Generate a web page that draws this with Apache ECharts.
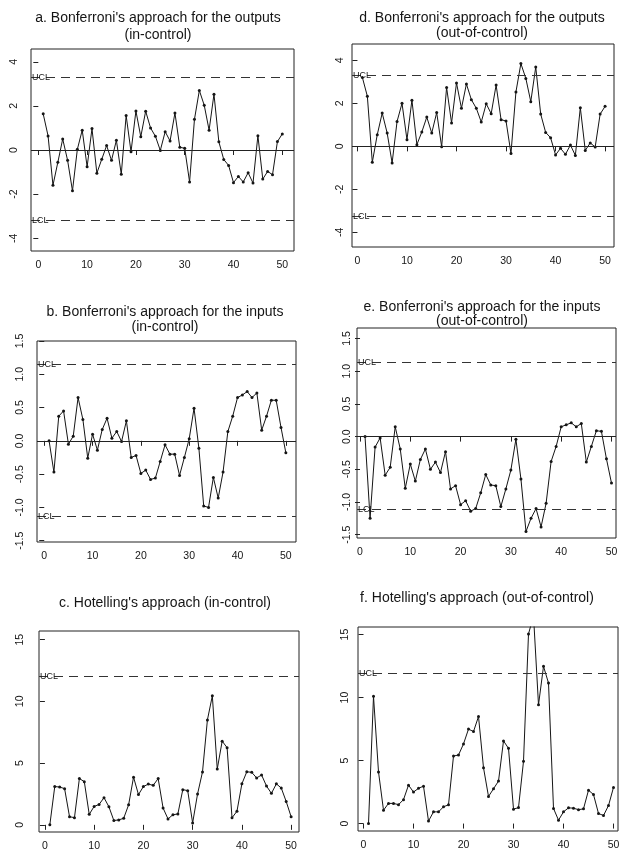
<!DOCTYPE html>
<html>
<head>
<meta charset="utf-8">
<script src="https://cdn.jsdelivr.net/npm/echarts@6/dist/echarts.min.js"></script>
<style>
html,body{margin:0;padding:0;background:#fff;}
#chart{width:623px;height:852px;}
</style>
</head>
<body>
<div id="chart"></div>
<script>
// observation numbers
const obs = [1,2,3,4,5,6,7,8,9,10,11,12,13,14,15,16,17,18,19,20,21,22,23,24,25,26,27,28,29,30,31,32,33,34,35,36,37,38,39,40,41,42,43,44,45,46,47,48,49,50];

// a. Bonferroni outputs (in-control)
const outputsIn = [1.64,0.64,-1.6,-0.56,0.5,-0.47,-1.85,0.03,0.9,-0.76,0.97,-1.05,-0.42,0.2,-0.47,0.44,-1.1,1.56,-0.08,1.77,0.6,1.76,1.0,0.62,-0.02,0.83,0.41,1.68,0.12,0.08,-1.45,1.39,2.7,2.03,0.9,2.53,0.37,-0.43,-0.7,-1.48,-1.2,-1.45,-1.03,-1.5,0.65,-1.32,-0.97,-1.12,0.38,0.73];
// d. Bonferroni outputs (out-of-control)
const outputsOut = [3.2,2.33,-0.74,0.54,1.55,0.62,-0.77,1.16,2.0,0.31,2.15,0.08,0.67,1.36,0.62,1.57,-0.02,2.74,1.09,2.95,1.77,2.9,2.17,1.77,1.13,1.98,1.52,2.85,1.24,1.18,-0.33,2.53,3.85,3.16,2.08,3.69,1.5,0.65,0.4,-0.4,-0.09,-0.37,0.06,-0.42,1.8,-0.19,0.16,-0.03,1.5,1.86];
// b. Bonferroni inputs (in-control)
const inputsIn = [0.0,-0.47,0.37,0.45,-0.05,0.07,0.65,0.32,-0.26,0.1,-0.14,0.17,0.34,0.04,0.14,-0.01,0.3,-0.25,-0.22,-0.49,-0.44,-0.58,-0.56,-0.31,-0.06,-0.2,-0.2,-0.52,-0.25,0.03,0.49,-0.11,-0.98,-1.0,-0.55,-0.86,-0.47,0.14,0.37,0.65,0.69,0.74,0.65,0.72,0.16,0.37,0.61,0.61,0.2,-0.18];
// e. Bonferroni inputs (out-of-control)
const inputsOut = [0.0,-1.25,-0.16,-0.02,-0.59,-0.47,0.15,-0.19,-0.79,-0.42,-0.68,-0.35,-0.19,-0.5,-0.39,-0.55,-0.23,-0.8,-0.75,-1.04,-0.98,-1.14,-1.1,-0.86,-0.58,-0.74,-0.75,-1.07,-0.8,-0.51,-0.04,-0.65,-1.45,-1.25,-1.1,-1.38,-1.02,-0.38,-0.15,0.15,0.18,0.21,0.15,0.2,-0.39,-0.15,0.09,0.08,-0.34,-0.71];
// c. Hotelling (in-control)
const hotIn = [0.0,3.1,3.06,2.93,0.66,0.58,3.75,3.5,0.85,1.49,1.65,2.2,1.46,0.35,0.4,0.53,1.62,3.86,2.45,3.1,3.3,3.2,3.75,1.36,0.48,0.82,0.88,2.85,2.77,0.15,2.5,4.28,8.5,10.45,4.52,6.78,6.25,0.57,1.1,3.32,4.3,4.25,3.8,4.04,3.14,2.55,3.32,2.98,1.89,0.66];
// f. Hotelling (out-of-control)
const hotOut = [0.0,10.1,4.1,1.06,1.6,1.6,1.5,1.9,3.05,2.5,2.8,2.97,0.2,0.93,0.93,1.33,1.49,5.36,5.44,6.32,7.5,7.3,8.5,4.43,2.15,2.76,3.37,6.56,5.97,1.14,1.27,4.94,15.05,16.5,9.42,12.48,11.15,1.2,0.27,0.93,1.25,1.22,1.1,1.17,2.65,2.3,0.8,0.64,1.43,2.87];

// control limits
const limitsA = {ucl: 3.3, lcl: -3.2};
const limitsD = {ucl: 3.3, lcl: -3.25};
const limitsB = {ucl: 1.15, lcl: -1.13};
const limitsE = {ucl: 1.13, lcl: -1.11};
const limitsC = {ucl: 12.0};
const limitsF = {ucl: 11.9};

// tick labels
const xTicks = [0,10,20,30,40,50];
const yTicksBonfOut = [-4,-2,0,2,4];
const yTicksBonfIn = [-1.5,-1.0,-0.5,0.0,0.5,1.0,1.5];
const yTicksHot = [0,5,10,15];

const titles = [
  "a. Bonferroni's approach for the outputs\n(in-control)",
  "d. Bonferroni's approach for the outputs\n(out-of-control)",
  "b. Bonferroni's approach for the inputs\n(in-control)",
  "e. Bonferroni's approach for the inputs\n(out-of-control)",
  "c. Hotelling's approach (in-control)",
  "f. Hotelling's approach (out-of-control)"
];

const FONT = "'Liberation Sans', Arial, sans-serif";
const INK = '#151515';

const panels = [
  {grid:{left:31,top:49,width:263,height:202}, x:[-1.5,52.4], y:[-4.58,4.58], yt:yTicksBonfOut, yfmt:v=>String(v), ym:11, data:outputsIn, lim:limitsA, center:true,
   title:{x:158,y:10,lh:17}},
  {grid:{left:352,top:44,width:262,height:203}, x:[-1.1,51.8], y:[-4.68,4.76], yt:yTicksBonfOut, yfmt:v=>String(v), ym:6, data:outputsOut, lim:limitsD, center:true,
   title:{x:482,y:10.5,lh:15}},
  {grid:{left:37,top:341,width:259,height:201}, x:[-1.5,52.1], y:[-1.52,1.5], yt:yTicksBonfIn, yfmt:v=>v.toFixed(1), ym:11, data:inputsIn, lim:limitsB, center:true,
   title:{x:165,y:304.5,lh:15}},
  {grid:{left:357,top:328,width:259,height:210}, x:[-0.6,50.9], y:[-1.55,1.66], yt:yTicksBonfIn, yfmt:v=>v.toFixed(1), ym:4, data:inputsOut, lim:limitsE, center:true,
   title:{x:482,y:300,lh:14}},
  {grid:{left:39,top:631,width:260,height:204}, x:[-1.2,51.6], y:[-0.58,15.7], yt:yTicksHot, yfmt:v=>String(v), ym:13, data:hotIn, lim:limitsC, center:false,
   title:{x:165,y:595,lh:16}},
  {grid:{left:358,top:627,width:260,height:204}, x:[-1.1,50.9], y:[-0.59,15.6], yt:yTicksHot, yfmt:v=>String(v), ym:7, data:hotOut, lim:limitsF, center:false,
   title:{x:477,y:590,lh:16}}
];

const option = {
  animation: false,
  backgroundColor: '#fff',
  title: [], grid: [], xAxis: [], yAxis: [], series: []
};

panels.forEach((p, i) => {
  option.title.push({
    text: titles[i], left: p.title.x, top: p.title.y, textAlign: 'center', padding: 0,
    textStyle: {fontFamily: FONT, fontSize: 14, fontWeight: 'normal', color: INK, lineHeight: p.title.lh, align: 'center'}
  });
  option.grid.push(Object.assign({show: true, borderColor: '#222', borderWidth: 1, backgroundColor: 'transparent'}, p.grid));
  option.xAxis.push({
    type: 'value', gridIndex: i, min: p.x[0], max: p.x[1],
    axisLine: {show: false}, splitLine: {show: false},
    axisTick: {show: true, inside: false, length: 5, customValues: xTicks, lineStyle: {color: '#222'}},
    axisLabel: {show: true, customValues: xTicks, margin: 9, fontSize: 10.5, fontFamily: FONT, color: INK}
  });
  option.yAxis.push({
    type: 'value', gridIndex: i, min: p.y[0], max: p.y[1],
    axisLine: {show: false}, splitLine: {show: false},
    axisTick: {show: true, inside: false, length: 5, customValues: p.yt, lineStyle: {color: '#222'}},
    axisLabel: {show: true, customValues: p.yt, rotate: 90, margin: p.ym, fontSize: 10.5, fontFamily: FONT, color: INK, formatter: p.yfmt}
  });
  const mlData = [];
  const limLabel = (txt) => ({show: true, formatter: txt, position: 'insideStart', distance: [1, -4], fontSize: 9, fontFamily: FONT, color: INK});
  mlData.push({yAxis: p.lim.ucl, lineStyle: {type: [9, 6], color: '#333', width: 1}, label: limLabel('UCL')});
  if (p.lim.lcl !== undefined) {
    mlData.push({yAxis: p.lim.lcl, lineStyle: {type: [9, 6], color: '#333', width: 1}, label: limLabel('LCL')});
  }
  if (p.center) {
    mlData.push({yAxis: 0, lineStyle: {type: 'solid', color: '#222', width: 1}, label: {show: false}});
  }
  option.series.push({
    type: 'line', xAxisIndex: i, yAxisIndex: i,
    data: obs.map((o, k) => [o, p.data[k]]),
    symbol: 'circle', symbolSize: 3, showSymbol: true,
    itemStyle: {color: INK},
    lineStyle: {color: INK, width: 1},
    clip: true, silent: true,
    markLine: {silent: true, symbol: ['none', 'none'], data: mlData}
  });
});

const chart = echarts.init(document.getElementById('chart'), null, {renderer: 'canvas'});
chart.setOption(option);
</script>
</body>
</html>
